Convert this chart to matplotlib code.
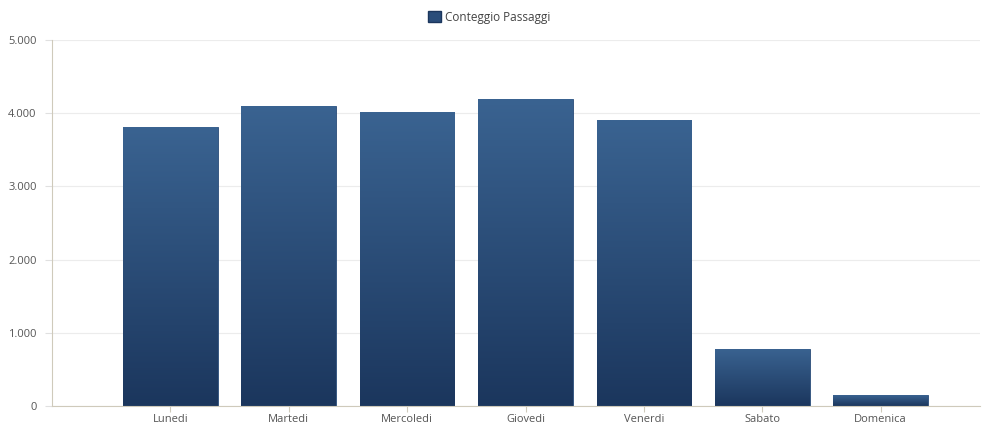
import matplotlib
matplotlib.use("Agg")
import matplotlib.pyplot as plt
import numpy as np
from matplotlib.colors import LinearSegmentedColormap
from matplotlib.patches import Patch
from matplotlib.ticker import FuncFormatter

categories = ["Lunedi", "Martedi", "Mercoledi", "Giovedi", "Venerdi", "Sabato", "Domenica"]
values = [3810, 4100, 4010, 4200, 3900, 780, 150]
series_name = "Conteggio Passaggi"
yticks = [0, 1000, 2000, 3000, 4000, 5000]

plt.rcParams['font.family'] = ['Open Sans', 'DejaVu Sans']

fig = plt.figure(figsize=(9.94, 4.25), dpi=100)
ax = fig.add_axes([0.0523, 0.0447, 0.9337, 0.8613])

x = np.arange(len(categories))
bars = ax.bar(x, values, width=0.8, color="#2a4d7a", edgecolor="#2a4d7a", linewidth=0.6, zorder=2)

cmap = LinearSegmentedColormap.from_list("g", ["#1b365d", "#3a6391"])
grad = np.linspace(0, 1, 256).reshape(-1, 1)
for b in bars:
    x0 = b.get_x(); w = b.get_width(); h = b.get_height()
    im = ax.imshow(grad, cmap=cmap, origin="lower", aspect="auto",
                   extent=[x0, x0 + w, 0, h], zorder=2.5, interpolation="bilinear")
    im.set_clip_path(b)

ax.set_xlim(-1, 6.84)
ax.set_ylim(0, 5000)
ax.set_xticks(x)
ax.set_xticklabels(categories)
ax.set_yticks(yticks)
ax.yaxis.set_major_formatter(FuncFormatter(lambda v, p: f"{int(v):,}".replace(",", ".")))
ax.grid(axis="y", color="#ececec", linewidth=0.8, zorder=0)
ax.set_axisbelow(True)
for s in ["top", "right"]:
    ax.spines[s].set_visible(False)
ax.spines["left"].set_color("#cfcabb")
ax.spines["bottom"].set_color("#cfcabb")
ax.tick_params(axis="x", colors="#cfcabb", labelcolor="#555555", labelsize=8, length=4, width=0.8, pad=1.5)
ax.tick_params(axis="y", colors="#e0e0e0", labelcolor="#555555", labelsize=8, length=5, width=0.8, pad=6)

handle = Patch(facecolor="#2a4d7a", edgecolor="#1b365d", label=series_name)
fig.legend(handles=[handle], loc="upper center", bbox_to_anchor=(0.492, 1.0), frameon=False,
           fontsize=8.5, handlelength=1.1, handleheight=1.1, handletextpad=0.4, labelcolor="#444444")

fig.savefig("out.png", dpi=100, facecolor="white")
